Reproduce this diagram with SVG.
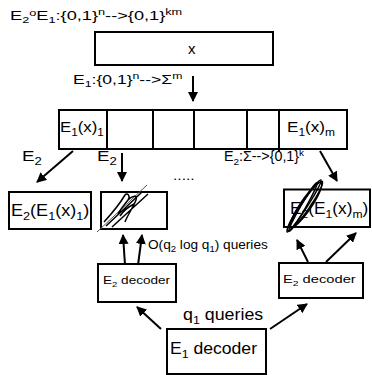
<svg xmlns="http://www.w3.org/2000/svg" width="372" height="375" viewBox="0 0 372 375">
<defs>
<marker id="ah" viewBox="0 0 10 10" refX="9" refY="5" markerWidth="5" markerHeight="5" orient="auto-start-reverse" markerUnits="strokeWidth"><path d="M0,0 L10,5 L0,10 z" fill="#000"/></marker>
<style>
text{font-family:"Liberation Sans",Arial,sans-serif;fill:#000}
.box{fill:#fff;stroke:#000;stroke-width:2}
.ln{stroke:#000;stroke-width:2;fill:none}
.ar{stroke:#000;stroke-width:2;fill:none;marker-end:url(#ah)}
.s{font-size:70%}
.sc{stroke:#000;stroke-width:1.5;fill:none}
</style>
</defs>
<text transform="translate(10,20) scale(1.4,1)" font-size="13">E<tspan class="s" dy="3">2</tspan><tspan class="s" dy="-7">o</tspan><tspan dy="4">E</tspan><tspan class="s" dy="3">1</tspan><tspan dy="-3">:{0,1}</tspan><tspan class="s" dy="-5">n</tspan><tspan dy="5">--&gt;{0,1}</tspan><tspan class="s" dy="-5">km</tspan></text>
<g id="x"><rect class="box" x="95" y="32" width="178" height="33"/><text x="188" y="54" font-size="15">x</text></g>
<text transform="translate(73,84) scale(1.35,1)" font-size="13">E<tspan class="s" dy="3">1</tspan><tspan dy="-3">:{0,1}</tspan><tspan class="s" dy="-5">n</tspan><tspan dy="5">--&gt;Σ</tspan><tspan class="s" dy="-5">m</tspan></text>
<g id="array">
<rect class="box" x="59" y="110" width="288" height="39"/>
<line class="ln" x1="107" y1="110" x2="107" y2="149"/>
<line class="ln" x1="153" y1="110" x2="153" y2="149"/>
<line class="ln" x1="194" y1="110" x2="194" y2="149"/>
<line class="ln" x1="247" y1="110" x2="247" y2="149"/>
<line class="ln" x1="279" y1="110" x2="279" y2="152"/>
<text transform="translate(60,132) scale(1.12,1)" font-size="15">E<tspan class="s" dy="4">1</tspan><tspan dy="-4">(x)</tspan><tspan class="s" dy="4">1</tspan></text>
<text transform="translate(287,132) scale(1.14,1)" font-size="15">E<tspan class="s" dy="4">1</tspan><tspan dy="-4">(x)</tspan><tspan class="s" dy="4">m</tspan></text>
</g>
<g id="b1"><rect class="box" x="9" y="192" width="82" height="37"/><text transform="translate(11,216) scale(1.13,1)" font-size="16">E<tspan class="s" dy="4">2</tspan><tspan dy="-4">(E</tspan><tspan class="s" dy="4">1</tspan><tspan dy="-4">(x)</tspan><tspan class="s" dy="4">1</tspan><tspan dy="-4">)</tspan></text></g>
<g id="b2"><rect class="box" x="101" y="192" width="66" height="37"/>
<line x1="97" y1="232" x2="147" y2="185" stroke="#555" stroke-width="1"/>
<path class="sc" d="M106,226 L142,192 M112,227 L148,194 M104,222 C115,210 122,200 125,195 C127,192 131,196 128,200 C124,205 120,210 118,214 M128,200 C132,196 138,194 136,200 C133,208 128,214 125,222 M120,216 C124,210 130,206 134,204"/>
</g>
<g id="b3"><rect class="box" x="284" y="189.5" width="86" height="37.5"/><text transform="translate(290,214) scale(1.08,1)" font-size="16">E<tspan class="s" dy="4">2</tspan><tspan dy="-4">(E</tspan><tspan class="s" dy="4">1</tspan><tspan dy="-4">(x)</tspan><tspan class="s" dy="4">m</tspan><tspan dy="-4">)</tspan></text>
<g class="sc" stroke-width="1.3">
<ellipse cx="304" cy="206" rx="31" ry="3" transform="rotate(-57 304 206)"/>
<ellipse cx="305" cy="206" rx="30" ry="4.5" transform="rotate(-55 305 206)"/>
<ellipse cx="303" cy="207" rx="28" ry="2.5" transform="rotate(-60 303 207)"/>
<ellipse cx="306" cy="205" rx="27" ry="5.5" transform="rotate(-56 306 205)"/>
</g>
</g>
<g id="d1"><rect class="box" x="98" y="264" width="78" height="38"/><text transform="translate(103,284) scale(1.18,1)" font-size="11.5">E<tspan class="s" dy="3">2</tspan><tspan dy="-3"> decoder</tspan></text></g>
<g id="d2"><rect class="box" x="279" y="263" width="84" height="35"/><text transform="translate(283,283) scale(1.28,1)" font-size="11.5">E<tspan class="s" dy="3">2</tspan><tspan dy="-3"> decoder</tspan></text></g>
<g id="d0"><rect class="box" x="167" y="329" width="99" height="45"/><text transform="translate(170,354) scale(1.1,1)" font-size="16">E<tspan class="s" dy="4">1</tspan><tspan dy="-4"> decoder</tspan></text></g>
<g id="connectors">
<line class="ar" x1="193" y1="76" x2="193" y2="101"/>
<line class="ar" x1="73" y1="151" x2="37" y2="182"/>
<line class="ar" x1="122" y1="153" x2="122" y2="181"/>
<line class="ar" x1="320" y1="151" x2="337" y2="181"/>
<line class="ar" x1="125" y1="265" x2="123" y2="235"/>
<line class="ar" x1="138" y1="265" x2="142" y2="235"/>
<line class="ar" x1="308" y1="262" x2="297" y2="240"/>
<line class="ar" x1="326" y1="262" x2="356" y2="233"/>
<line class="ar" x1="161" y1="329" x2="137" y2="307"/>
<line class="ar" x1="270" y1="329" x2="307" y2="304"/>
</g>
<text transform="translate(22,161) scale(1.25,1)" font-size="15">E<tspan class="s" dy="4">2</tspan></text>
<text transform="translate(97,161) scale(1.25,1)" font-size="15">E<tspan class="s" dy="4">2</tspan></text>
<text transform="translate(173,180) scale(1.2,1)" font-size="13">.....</text>
<text transform="translate(224,161) scale(1.02,1)" font-size="14">E<tspan class="s" dy="4">2</tspan><tspan dy="-4">:Σ--&gt;{0,1}</tspan><tspan class="s" dy="-5">k</tspan></text>
<text transform="translate(148,249) scale(1.05,1)" font-size="13">O(q<tspan class="s" dy="3">2</tspan><tspan dy="-3"> log q</tspan><tspan class="s" dy="3">1</tspan><tspan dy="-3">) queries</tspan></text>
<text transform="translate(183,320) scale(1.08,1)" font-size="16.5">q<tspan class="s" dy="4">1</tspan><tspan dy="-4"> queries</tspan></text>
</svg>
